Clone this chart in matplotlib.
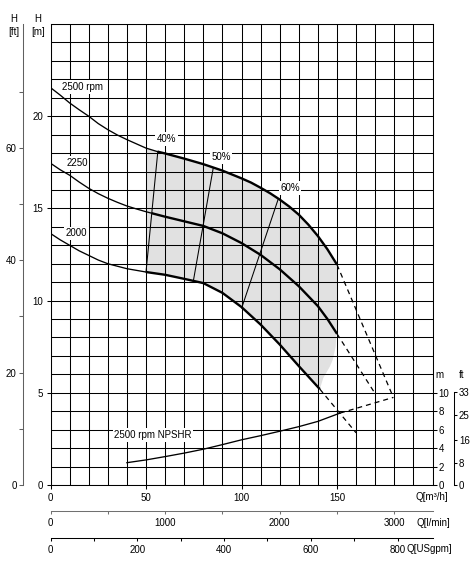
import numpy as np
import matplotlib
matplotlib.use('Agg')
from matplotlib import pyplot as plt

plt.rcParams['font.family'] = ['Liberation Sans', 'DejaVu Sans']
plt.rcParams['font.size'] = 7

# head curves, Q [m3/h] -> H [m]
q_2500 = [0, 5, 10, 15, 20, 25, 30, 35, 40, 45, 50, 56, 60, 70, 80, 90, 100, 105,
          110, 115, 120, 125, 130, 135, 140, 145, 150]
h_2500 = [21.55, 21.15, 20.72, 20.35, 20.0, 19.6, 19.27, 18.98, 18.73, 18.5, 18.27,
          18.08, 17.98, 17.7, 17.4, 17.05, 16.63, 16.4, 16.12, 15.82, 15.48, 15.1,
          14.66, 14.12, 13.5, 12.78, 11.95]
q_2250 = [0, 5, 10, 15, 20, 25, 30, 35, 40, 45, 50, 60, 70, 80, 90, 100, 110, 120,
          130, 140, 145, 150]
h_2250 = [17.45, 17.1, 16.8, 16.43, 16.09, 15.8, 15.55, 15.33, 15.13, 14.97, 14.82,
          14.55, 14.3, 14.05, 13.65, 13.12, 12.48, 11.7, 10.78, 9.7, 9.0, 8.2]
q_2000 = [0, 5, 10, 15, 20, 25, 30, 40, 50, 60, 70, 80, 90, 100, 110, 120, 130, 141]
h_2000 = [13.64, 13.3, 13.0, 12.7, 12.45, 12.2, 12.0, 11.73, 11.55, 11.4, 11.18,
          10.95, 10.42, 9.65, 8.7, 7.62, 6.45, 5.2]

# dashed extensions
q_2500_ext = [150, 179.5]
h_2500_ext = [11.95, 4.75]
q_2250_ext = [150, 170]
h_2250_ext = [8.2, 4.95]
q_2000_ext = [141, 160]
h_2000_ext = [5.2, 2.83]

# NPSHR at 2500 rpm, [m]
q_npsh = [40, 50, 60, 70, 80, 90, 100, 110, 120, 130, 140, 151.6]
npsh = [2.42, 2.72, 3.08, 3.46, 3.88, 4.38, 4.9, 5.35, 5.83, 6.33, 6.9, 7.8]
q_npsh_ext = [151.6, 179.5]
npsh_ext = [7.8, 9.5]

# efficiency lines
eff_labels = ['40%', '50%', '60%']
eff_q = [[56.2, 50.0], [85.2, 74.8], [119.3, 100.1]]
eff_h = [[18.1, 11.55], [17.19, 11.07], [15.53, 9.6]]

# right edge of the shaded operating range
q_edge = [150.2, 150.2, 149.3, 147.8, 146.3, 142.8]
h_edge = [10.5, 9.0, 7.5, 6.8, 6.43, 5.8]

M3H_TO_LMIN = 1000 / 60
M3H_TO_GPM = 4.4029
M_TO_FT = 1 / 0.3048


def part(q, h, q0, q1):
    q = np.asarray(q, float)
    h = np.asarray(h, float)
    inner = (q > q0) & (q < q1)
    qs = np.concatenate([[q0], q[inner], [q1]])
    return qs, np.interp(qs, q, h)


def cross_q(q, h, eq, eh):
    qq = np.linspace(min(eq), max(eq), 800)
    line = eh[0] + (qq - eq[0]) * (eh[1] - eh[0]) / (eq[1] - eq[0])
    return qq[np.argmin(np.abs(np.interp(qq, q, h) - line))]


W, H = 472, 567
fig = plt.figure(figsize=(W / 100, H / 100), dpi=100)


def fx(px):
    return px / W


def fy(py):
    return 1 - py / H


x0, x1, y0, y1 = 50.5, 432.5, 485, 24
ax = fig.add_axes([fx(x0), fy(y0), fx(x1) - fx(x0), fy(y1) - fy(y0)])
ax.set_xlim(0, 200)
ax.set_ylim(0, 25)
ax.set_xticks([0, 50, 100, 150])
ax.set_xticks(np.arange(0, 201, 10), minor=True)
ax.set_yticks([0, 5, 10, 15, 20])
ax.set_yticks(np.arange(0, 26, 1), minor=True)
ax.grid(which='both', color='black', lw=0.75)
ax.tick_params(which='major', length=3, width=0.75, pad=2.5)
ax.tick_params(which='minor', length=0)
for s in ax.spines.values():
    s.set_linewidth(0.75)

# shaded region
tq, th = part(q_2500, h_2500, 50, 150)
bq, bh = part(q_2000, h_2000, 50, 141)
reg_q = np.concatenate([tq, q_edge, bq[::-1]])
reg_h = np.concatenate([th, h_edge, bh[::-1]])
ax.fill(reg_q, reg_h, color='#e1e1e1', lw=0, zorder=1)

# head curves: thin left of 40% line, thick after
for q, h in [(q_2500, h_2500), (q_2250, h_2250), (q_2000, h_2000)]:
    qs = cross_q(q, h, eff_q[0], eff_h[0])
    a, b = part(q, h, q[0], qs)
    ax.plot(a, b, color='black', lw=0.95, zorder=2)
    a, b = part(q, h, qs, q[-1])
    ax.plot(a, b, color='black', lw=1.7, zorder=2, solid_capstyle='butt')

for q, h in [(q_2500_ext, h_2500_ext), (q_2250_ext, h_2250_ext), (q_2000_ext, h_2000_ext)]:
    ax.plot(q, h, color='black', lw=0.9, dashes=(4, 3.2), zorder=2)

for q, h in zip(eff_q, eff_h):
    ax.plot(q, h, color='black', lw=0.75, zorder=2)

box = dict(facecolor='white', edgecolor='none', pad=1.2)
ax.text(17.0, 21.58, '2500 rpm', ha='center', va='center', bbox=box, zorder=3)
ax.text(13.9, 17.46, '2250', ha='center', va='center', bbox=box, zorder=3)
ax.text(13.7, 13.65, '2000', ha='center', va='center', bbox=box, zorder=3)
for lab, (qx, hy) in zip(eff_labels, [(60.7, 18.76), (89.3, 17.79), (125.4, 16.1)]):
    ax.text(qx, hy, lab, ha='center', va='center', bbox=box, zorder=3)
ax.text(53.7, 2.71, '2500 rpm NPSHR', ha='center', va='center', bbox=box, zorder=3)

# NPSH scale on the right
ax2 = ax.twinx()
ax2.set_ylim(0, 50)
ax2.set_yticks(np.arange(0, 11, 2))
ax2.tick_params(length=3, width=0.75, pad=1.5)
for s in ax2.spines.values():
    s.set_visible(False)
ax2.plot(q_npsh, npsh, color='black', lw=0.95)
ax2.plot(q_npsh_ext, npsh_ext, color='black', lw=0.9, dashes=(4, 3.2))

# ft scale for NPSH
axr = fig.add_axes([fx(454), fy(y0), 1e-4, fy(y1) - fy(y0)])
axr.set_ylim(0, 50 * M_TO_FT)
axr.patch.set_visible(False)
for k in ['left', 'top', 'bottom']:
    axr.spines[k].set_visible(False)
axr.spines['right'].set_bounds(0, 33)
axr.spines['right'].set_linewidth(0.75)
axr.yaxis.tick_right()
axr.set_yticks([0, 8, 16, 25, 33])
axr.set_xticks([])
axr.tick_params(length=2.5, width=0.75, pad=1)

# ft scale for H on the left
axf = fig.add_axes([fx(23), fy(y0), 1e-4, fy(y1) - fy(y0)])
axf.set_ylim(0, 25 * M_TO_FT)
axf.patch.set_visible(False)
for k in ['right', 'top', 'bottom']:
    axf.spines[k].set_visible(False)
axf.spines['left'].set_color('#606060')
axf.spines['left'].set_linewidth(0.75)
axf.set_yticks([0, 20, 40, 60])
axf.set_yticks([10, 30, 50, 70], minor=True)
axf.set_xticks([])
axf.tick_params(which='both', length=3, width=0.75, color='#606060', pad=1.5)

# extra flow scales below
for ypx, xmax, major, minor, col in [
        (510.7, 200 * M3H_TO_LMIN, [0, 1000, 2000, 3000], [500, 1500, 2500], '#707070'),
        (537.7, 200 * M3H_TO_GPM, [0, 200, 400, 600, 800], [100, 300, 500, 700], 'black')]:
    axb = fig.add_axes([fx(x0), fy(ypx), fx(x1) - fx(x0), 1e-4])
    axb.set_xlim(0, xmax)
    axb.patch.set_visible(False)
    for k in ['left', 'right', 'top']:
        axb.spines[k].set_visible(False)
    axb.spines['bottom'].set_color(col)
    axb.spines['bottom'].set_linewidth(0.75)
    axb.set_yticks([])
    axb.set_xticks(major)
    axb.set_xticks(minor, minor=True)
    axb.tick_params(which='both', length=2.5, width=0.75, color=col, pad=3)

# axis titles
fig.text(fx(13.7), fy(19.3), 'H', ha='center', va='center')
fig.text(fx(13.7), fy(32), '[ft]', ha='center', va='center')
fig.text(fx(37.7), fy(19.3), 'H', ha='center', va='center')
fig.text(fx(37.7), fy(32), '[m]', ha='center', va='center')
fig.text(fx(439), fy(375), 'm', ha='center', va='center')
fig.text(fx(461.5), fy(375), 'ft', ha='center', va='center')
fig.text(fx(448), fy(497), 'Q[m³/h]', ha='right', va='center')
fig.text(fx(450), fy(522.7), 'Q[l/min]', ha='right', va='center')
fig.text(fx(452), fy(549.3), 'Q[USgpm]', ha='right', va='center')

fig.savefig('out.png', dpi=100)
